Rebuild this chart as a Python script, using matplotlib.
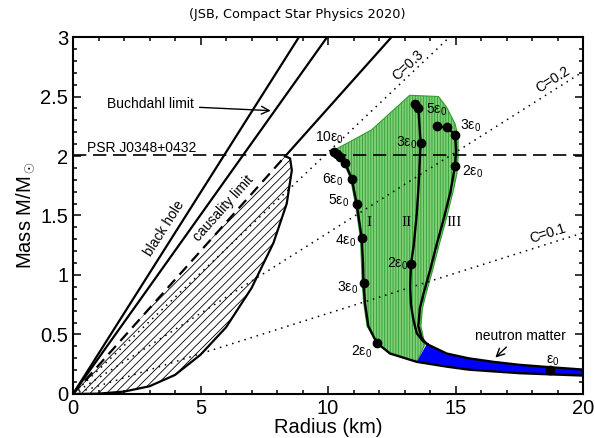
import numpy as np
import matplotlib
matplotlib.use("Agg")
import matplotlib.pyplot as plt
from matplotlib.patches import Polygon
from matplotlib.ticker import MultipleLocator, FormatStrFormatter

plt.rcParams['font.family'] = ['Liberation Sans', 'DejaVu Sans']
plt.rcParams['mathtext.fontset'] = 'custom'
plt.rcParams['mathtext.rm'] = 'Liberation Sans'
plt.rcParams['mathtext.it'] = 'Liberation Sans:italic'
plt.rcParams['hatch.linewidth'] = 0.6

GM_C2 = 1.4766  # km per solar mass

# limit lines: R = k * GM/c^2
k_blackhole = 2.0
k_buchdahl = 2.25
k_causal = 2.82
compactness = [0.1, 0.2, 0.3]
M_psr = 2.01

# self-bound (causal) star boundary, hatched region
self_R = [0.0, 1.0, 2.0, 3.0, 4.0, 5.0, 6.0, 7.0, 7.86, 8.38, 8.58, 8.51, 8.31]
self_M = [0.0, 0.003, 0.02, 0.065, 0.16, 0.33, 0.56, 0.89, 1.27, 1.60, 1.88, 1.98, 2.00]

# mass-radius curves I, II, III
I_R = [10.25, 10.47, 10.67, 10.93, 11.12, 11.32, 11.37, 11.39, 11.45, 11.58, 11.91, 12.43,
       13.48, 14.65, 15.5, 16.48, 17.5, 18.7, 20.0]
I_M = [2.03, 1.99, 1.94, 1.81, 1.60, 1.31, 1.10, 0.93, 0.76, 0.57, 0.43, 0.34,
       0.27, 0.23, 0.205, 0.19, 0.175, 0.165, 0.155]
II_R = [13.41, 13.54, 13.63, 13.55, 13.48, 13.36, 13.25, 13.22, 13.25, 13.35, 13.48, 13.74, 13.9]
II_M = [2.44, 2.40, 2.11, 1.75, 1.52, 1.25, 1.09, 0.90, 0.75, 0.62, 0.51, 0.44, 0.42]
III_R = [14.26, 14.65, 14.98, 15.02, 14.98, 14.8, 14.52, 14.25, 14.0, 13.75, 13.6, 13.54,
         13.67, 13.87, 14.65, 15.5, 16.48, 17.5, 18.7, 20.0]
III_M = [2.25, 2.24, 2.18, 2.05, 1.92, 1.70, 1.46, 1.25, 1.04, 0.85, 0.72, 0.57,
         0.47, 0.42, 0.34, 0.30, 0.27, 0.245, 0.225, 0.205]

# central-density markers
dots_R = [10.25, 10.35, 10.47, 10.67, 10.93, 11.12, 11.32, 11.39, 11.91,
          13.41, 13.54, 13.63, 13.25,
          14.26, 14.65, 14.98, 14.98, 18.7]
dots_M = [2.03, 2.02, 1.99, 1.94, 1.81, 1.60, 1.31, 0.93, 0.43,
          2.44, 2.40, 2.11, 1.09,
          2.25, 2.24, 2.18, 1.92, 0.205]

# density labels
eps_text = ['10', '6', '5', '4', '3', '2', '3', '5', '2', '3', '2', '']
eps_R = [10.04, 10.18, 10.43, 10.67, 10.75, 11.33, 13.06, 14.24, 12.71, 15.6, 15.67, 18.82]
eps_M = [2.15, 1.80, 1.62, 1.29, 0.895, 0.357, 2.11, 2.39, 1.09, 2.25, 1.87, 0.28]

# band of allowed neutron stars
green_R = [10.15, 10.86, 11.71, 12.43, 13.2, 14.33, 14.65, 14.98, 15.1, 15.1, 15.05, 14.9,
           14.62, 14.35, 14.1, 13.85, 13.7, 13.64, 13.74, 13.8, 13.48, 12.43, 11.91,
           11.53, 11.40, 11.34, 11.27, 11.07, 10.88, 10.62, 10.42]
green_M = [2.04, 2.12, 2.22, 2.36, 2.51, 2.50, 2.41, 2.27, 2.16, 1.99, 1.85, 1.70,
           1.46, 1.25, 1.04, 0.85, 0.72, 0.57, 0.47, 0.42, 0.27, 0.34, 0.43,
           0.57, 0.76, 0.93, 1.31, 1.60, 1.81, 1.94, 1.99]

fig = plt.figure(figsize=(5.95, 4.38), dpi=100)
ax = fig.add_axes([0.1227, 0.1005, 0.8573, 0.815])

Mline = np.array([0.0, 3.0])

# hatched causal region
ax.add_patch(Polygon(np.column_stack([self_R, self_M]), closed=True, facecolor='white',
                     edgecolor='black', hatch='////', linewidth=0, zorder=1))
ax.plot(self_R, self_M, color='black', lw=1.6, zorder=4)

# compactness lines
Rc = np.array([0.0, 20.0])
for C in compactness:
    ax.plot(Rc, C * Rc / GM_C2, color='black', lw=1.1, ls=(0, (1, 3.2)), zorder=3)

# green band and blue neutron matter region
ax.add_patch(Polygon(np.column_stack([green_R, green_M]), closed=True, facecolor='#80cf79',
                     edgecolor='#2f9e2f', hatch='||||||', linewidth=0.8, zorder=2))
blue_R = I_R[12:] + III_R[13:][::-1]
blue_M = I_M[12:] + III_M[13:][::-1]
ax.add_patch(Polygon(np.column_stack([blue_R, blue_M]), closed=True, facecolor='#0000ff',
                     edgecolor='none', zorder=2))

for R, M in [(I_R, I_M), (II_R, II_M), (III_R, III_M)]:
    ax.plot(R, M, color='black', lw=1.7, zorder=5)
ax.plot(dots_R, dots_M, 'o', color='black', ms=6, zorder=6)

# limits
ax.plot(k_blackhole * GM_C2 * Mline, Mline, color='black', lw=1.6, zorder=4)
ax.plot(k_buchdahl * GM_C2 * Mline, Mline, color='black', lw=1.6, zorder=4)
Mc = self_M[-1]
ax.plot([0, k_causal * GM_C2 * Mc], [0, Mc], color='black', lw=1.6, ls=(0, (5, 3)), zorder=4)
ax.plot([k_causal * GM_C2 * Mc, k_causal * GM_C2 * 3.0], [Mc, 3.0], color='black', lw=1.6, zorder=4)
ax.axhline(M_psr, color='black', lw=1.2, ls=(0, (8, 4)), zorder=4)

# text
ax.text(0.55, 2.07, 'PSR J0348+0432', fontsize=10, va='center', ha='left')
ax.text(3.02, 2.44, 'Buchdahl limit', fontsize=10, va='center', ha='center')
ax.annotate('', xy=(7.86, 2.38), xytext=(4.85, 2.41),
            arrowprops=dict(arrowstyle='->', color='black', lw=1.0, mutation_scale=14))
ax.text(3.6, 1.39, 'black hole', fontsize=10, ha='center', va='center',
        rotation=np.degrees(np.arctan(1 / (k_blackhole * GM_C2))),
        transform_rotates_text=True, rotation_mode='anchor')
ax.text(5.9, 1.56, 'causality limit', fontsize=10, ha='center', va='center',
        rotation=np.degrees(np.arctan(1 / (k_causal * GM_C2))),
        transform_rotates_text=True, rotation_mode='anchor')
for C, (x, y) in zip(compactness, [(18.63, 1.35), (18.82, 2.64), (13.14, 2.765)]):
    ax.text(x, y, 'C=%g' % C, fontsize=10, ha='center', va='center',
            rotation=np.degrees(np.arctan(C / GM_C2)),
            transform_rotates_text=True, rotation_mode='anchor')
for t, x, y in zip(eps_text, eps_R, eps_M):
    ax.text(x, y, t + 'ε$_0$', fontsize=10, ha='center', va='center', zorder=7)
for t, x in zip(['I', 'II', 'III'], [11.61, 13.09, 14.95]):
    ax.text(x, 1.44, t, fontsize=11, family='Liberation Serif', ha='center', va='center', zorder=7)
ax.text(17.53, 0.49, 'neutron matter', fontsize=10, ha='center', va='center')
ax.annotate('', xy=(16.48, 0.29), xytext=(17.07, 0.41),
            arrowprops=dict(arrowstyle='->', color='black', lw=1.0, mutation_scale=14))

ax.set_xlim(0, 20)
ax.set_ylim(0, 3)
ax.xaxis.set_major_locator(MultipleLocator(5))
ax.xaxis.set_minor_locator(MultipleLocator(1))
ax.yaxis.set_major_locator(MultipleLocator(0.5))
ax.yaxis.set_minor_locator(MultipleLocator(0.1))
ax.yaxis.set_major_formatter(FormatStrFormatter('%g'))
ax.tick_params(which='both', direction='in', top=True, right=True, width=1.1, labelsize=14.5)
ax.tick_params(which='major', length=6)
ax.tick_params(which='minor', length=3)
for s in ax.spines.values():
    s.set_linewidth(1.5)
ax.set_xlabel('Radius (km)', fontsize=14.5, labelpad=0)
ax.set_ylabel('Mass M/M$_\\odot$', fontsize=14.5, labelpad=2)

fig.text(0.5, 0.968, '(JSB, Compact Star Physics 2020)', fontsize=9.3,
         family='DejaVu Sans', ha='center', va='center')

fig.savefig('out.png', dpi=100)
